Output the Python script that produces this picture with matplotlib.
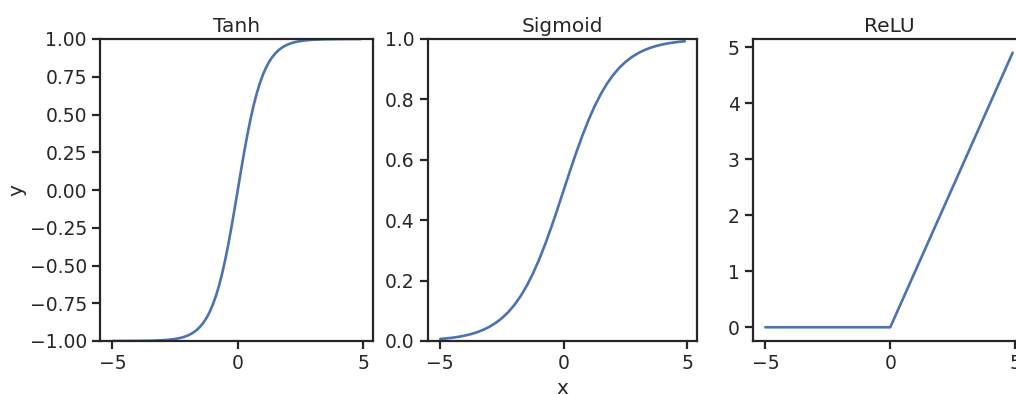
import matplotlib
matplotlib.use("Agg")
import matplotlib.pyplot as plt
import seaborn as sns

# values
tanh_x = [-5.0, -4.5, -4.0, -3.5, -3.0, -2.75, -2.5, -2.25,
          -2.125, -2.0, -1.875, -1.75, -1.625, -1.5, -1.375, -1.25, -1.125,
          -1.0, -0.875, -0.75, -0.625, -0.5, -0.375, -0.25, -0.125,
          0.0, 0.125, 0.25, 0.375, 0.5, 0.625, 0.75, 0.875,
          1.0, 1.125, 1.25, 1.375, 1.5, 1.625, 1.75, 1.875, 2.0, 2.125,
          2.25, 2.5, 2.75, 3.0, 3.5, 4.0, 4.5, 4.9]
tanh_vals = [-0.9999, -0.9998, -0.9993, -0.9982, -0.9951, -0.9918, -0.9866, -0.9780,
             -0.9719, -0.9640, -0.9540, -0.9414, -0.9254, -0.9051, -0.8798, -0.8483, -0.8093,
             -0.7616, -0.7039, -0.6351, -0.5546, -0.4621, -0.3584, -0.2449, -0.1244,
             0.0, 0.1244, 0.2449, 0.3584, 0.4621, 0.5546, 0.6351, 0.7039,
             0.7616, 0.8093, 0.8483, 0.8798, 0.9051, 0.9254, 0.9414, 0.9540, 0.9640, 0.9719,
             0.9780, 0.9866, 0.9918, 0.9951, 0.9982, 0.9993, 0.9998, 0.9999]

sigmoid_x = [-5.0, -4.75, -4.5, -4.25, -4.0, -3.75, -3.5, -3.25, -3.0, -2.75,
             -2.5, -2.25, -2.0, -1.75, -1.5, -1.25, -1.0, -0.75, -0.5, -0.25,
             0.0, 0.25, 0.5, 0.75, 1.0, 1.25, 1.5, 1.75, 2.0, 2.25,
             2.5, 2.75, 3.0, 3.25, 3.5, 3.75, 4.0, 4.25, 4.5, 4.75, 4.9]
sigmoid_vals = [0.0067, 0.0086, 0.0110, 0.0140, 0.0180, 0.0230, 0.0293, 0.0373, 0.0474, 0.0601,
                0.0759, 0.0953, 0.1192, 0.1480, 0.1824, 0.2227, 0.2689, 0.3208, 0.3775, 0.4378,
                0.5, 0.5622, 0.6225, 0.6792, 0.7311, 0.7773, 0.8176, 0.8520, 0.8808, 0.9047,
                0.9241, 0.9399, 0.9526, 0.9627, 0.9707, 0.9770, 0.9820, 0.9860, 0.9890, 0.9914, 0.9926]

relu_x = [-5.0, 0.0, 4.9]
relu_vals = [0.0, 0.0, 4.9]

sns.set_theme(style="ticks")
plt.rcParams['font.family'] = ['DejaVu Sans']
plt.rcParams['xtick.labelsize'] = 13.5
plt.rcParams['ytick.labelsize'] = 13.5
plt.rcParams['axes.linewidth'] = 1.6
plt.rcParams['xtick.major.width'] = 1.6
plt.rcParams['ytick.major.width'] = 1.6
plt.rcParams['xtick.major.size'] = 6
plt.rcParams['ytick.major.size'] = 6

W, H = 1016, 394
fig = plt.figure(figsize=(W / 100, H / 100), dpi=100)


def px_axes(left, right, top, bottom):
    return fig.add_axes([left / W, 1 - bottom / H, (right - left) / W, (bottom - top) / H])


color = "#4C72B0"
lw = 1.9
title_fs = 14.5

# Tanh
ax1 = px_axes(100, 373, 39, 341)
ax1.plot(tanh_x, tanh_vals, color=color, lw=lw)
ax1.set_ylim(-1, 1)
ax1.set_yticks([-1.0, -0.75, -0.5, -0.25, 0.0, 0.25, 0.5, 0.75, 1.0])
ax1.set_xticks([-5, 0, 5])
ax1.set_title("Tanh", fontsize=title_fs, pad=5)
ax1.set_ylabel("y", fontsize=title_fs)
ax1.yaxis.set_label_coords((26 - 100) / 273, 0.5)

# Sigmoid
ax2 = px_axes(428, 697, 39, 341)
ax2.plot(sigmoid_x, sigmoid_vals, color=color, lw=lw)
ax2.set_ylim(0, 1)
ax2.set_xticks([-5, 0, 5])
ax2.set_title("Sigmoid", fontsize=title_fs, pad=5)
ax2.set_xlabel("x", fontsize=title_fs, labelpad=4)

# ReLU
ax3 = px_axes(753, 1025, 39, 341)
ax3.plot(relu_x, relu_vals, color=color, lw=lw)
ax3.set_xticks([-5, 0, 5])
ax3.set_title("ReLU", fontsize=title_fs, pad=5)

plt.savefig("out.png", dpi=100)
